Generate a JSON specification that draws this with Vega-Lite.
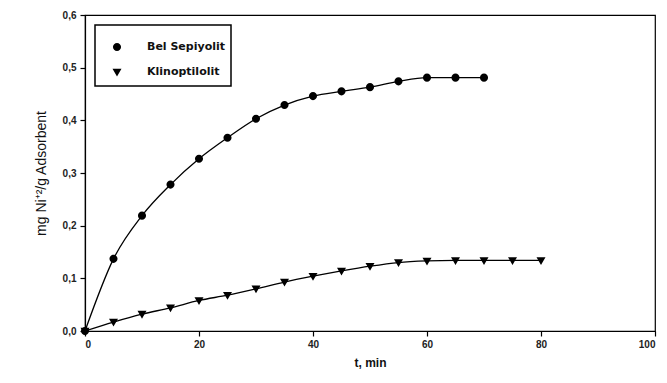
{
  "$schema": "https://vega.github.io/schema/vega-lite/v6.json",
  "autosize": {"type": "none"},
  "width": 570,
  "height": 316,
  "padding": {"left": 85, "top": 15, "right": 12, "bottom": 52},
  "background": "white",
  "config": {
    "view": {"stroke": "black", "strokeWidth": 1.2},
    "font": "Liberation Sans",
    "legend": {"strokeWidth": 1.5, "strokeColor": "black"}
  },
  "data": {
    "values": [
      {"t": 0, "q": 0.0, "s": "Bel Sepiyolit"},
      {"t": 5, "q": 0.137, "s": "Bel Sepiyolit"},
      {"t": 10, "q": 0.219, "s": "Bel Sepiyolit"},
      {"t": 15, "q": 0.278, "s": "Bel Sepiyolit"},
      {"t": 20, "q": 0.327, "s": "Bel Sepiyolit"},
      {"t": 25, "q": 0.367, "s": "Bel Sepiyolit"},
      {"t": 30, "q": 0.403, "s": "Bel Sepiyolit"},
      {"t": 35, "q": 0.429, "s": "Bel Sepiyolit"},
      {"t": 40, "q": 0.446, "s": "Bel Sepiyolit"},
      {"t": 45, "q": 0.455, "s": "Bel Sepiyolit"},
      {"t": 50, "q": 0.463, "s": "Bel Sepiyolit"},
      {"t": 55, "q": 0.474, "s": "Bel Sepiyolit"},
      {"t": 60, "q": 0.481, "s": "Bel Sepiyolit"},
      {"t": 65, "q": 0.481, "s": "Bel Sepiyolit"},
      {"t": 70, "q": 0.481, "s": "Bel Sepiyolit"},
      {"t": 0, "q": 0.0, "s": "Klinoptilolit"},
      {"t": 5, "q": 0.017, "s": "Klinoptilolit"},
      {"t": 10, "q": 0.032, "s": "Klinoptilolit"},
      {"t": 15, "q": 0.044, "s": "Klinoptilolit"},
      {"t": 20, "q": 0.058, "s": "Klinoptilolit"},
      {"t": 25, "q": 0.068, "s": "Klinoptilolit"},
      {"t": 30, "q": 0.080, "s": "Klinoptilolit"},
      {"t": 35, "q": 0.093, "s": "Klinoptilolit"},
      {"t": 40, "q": 0.104, "s": "Klinoptilolit"},
      {"t": 45, "q": 0.114, "s": "Klinoptilolit"},
      {"t": 50, "q": 0.123, "s": "Klinoptilolit"},
      {"t": 55, "q": 0.130, "s": "Klinoptilolit"},
      {"t": 60, "q": 0.133, "s": "Klinoptilolit"},
      {"t": 65, "q": 0.134, "s": "Klinoptilolit"},
      {"t": 70, "q": 0.134, "s": "Klinoptilolit"},
      {"t": 75, "q": 0.134, "s": "Klinoptilolit"},
      {"t": 80, "q": 0.134, "s": "Klinoptilolit"}
    ]
  },
  "encoding": {
    "x": {
      "field": "t", "type": "quantitative",
      "scale": {"domain": [0, 100], "nice": false, "zero": true},
      "axis": {
        "values": [0, 20, 40, 60, 80, 100],
        "grid": false, "domainColor": "black", "domainWidth": 1.2,
        "tickColor": "black", "tickSize": 5, "tickWidth": 1.2,
        "labelFont": "Liberation Sans", "labelFontSize": 10, "labelFontWeight": "bold", "labelColor": "#222",
        "labelPadding": 3,
        "title": "t, min", "titleFont": "Liberation Sans", "titleFontSize": 12, "titleFontWeight": "bold", "titleColor": "#111",
        "titlePadding": 8
      }
    },
    "y": {
      "field": "q", "type": "quantitative",
      "scale": {"domain": [0, 0.6], "nice": false},
      "axis": {
        "values": [0, 0.1, 0.2, 0.3, 0.4, 0.5, 0.6],
        "labelExpr": "replace(format(datum.value, '.1f'), '.', ',')",
        "grid": false, "domainColor": "black", "domainWidth": 1.2,
        "tickColor": "black", "tickSize": 5, "tickWidth": 1.2,
        "labelFont": "Liberation Sans", "labelFontSize": 10, "labelFontWeight": "bold", "labelColor": "#222",
        "labelPadding": 4,
        "title": "mg Ni⁺²/g Adsorbent", "titleFont": "Liberation Sans", "titleFontSize": 14, "titleFontWeight": "normal", "titleColor": "#111",
        "titlePadding": 14
      }
    },
    "shape": {
      "field": "s", "type": "nominal",
      "scale": {
        "domain": ["Bel Sepiyolit", "Klinoptilolit"],
        "range": [
          "M-1,0H1M0.27,0A0.27,0.27 0 1,1 -0.27,0A0.27,0.27 0 1,1 0.27,0Z",
          "M-1,0H1M-0.3,-0.22L0.3,-0.22L0,0.3Z"
        ]
      },
      "legend": {
        "title": null, "orient": "top-left", "offset": 10,
        "fillColor": "white",
        "padding": 6,
        "labelFont": "DejaVu Sans", "labelFontSize": 11, "labelFontWeight": "bold", "labelColor": "#111",
        "symbolFillColor": "black", "symbolStrokeColor": "black", "symbolSize": 900, "symbolOpacity": 1,
        "symbolStrokeWidth": 1.3,
        "rowPadding": 2, "labelOffset": 14,
        "encode": {
          "symbols": {
            "update": {
              "stroke": {"value": "black"},
              "strokeWidth": {"value": 1.3},
              "fill": {"value": "black"},
              "opacity": {"value": 1}
            }
          }
        }
      }
    }
  },
  "layer": [
    {
      "mark": {"type": "line", "color": "black", "strokeWidth": 1.3, "interpolate": "monotone"},
      "encoding": {"detail": {"field": "s", "type": "nominal"}, "shape": null}
    },
    {
      "mark": {"type": "point", "filled": true, "fill": "black", "size": 900, "opacity": 1}
    }
  ]
}
